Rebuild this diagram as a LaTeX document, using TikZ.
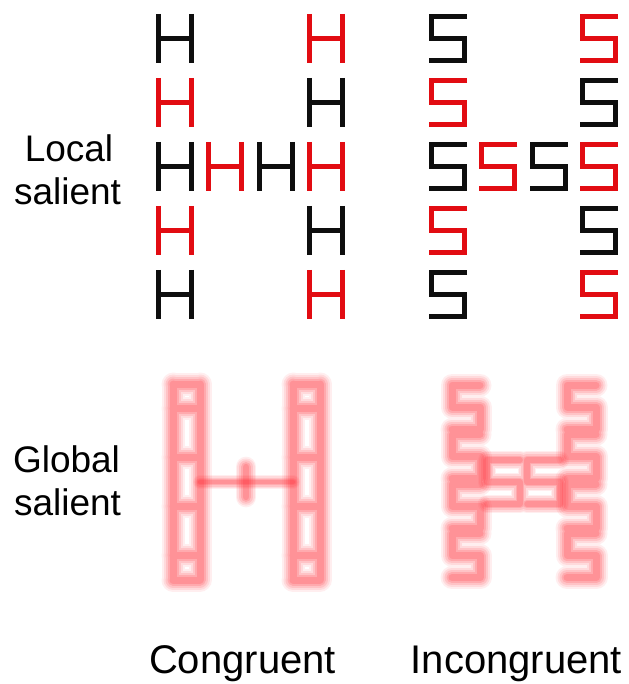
\documentclass[tikz,border=0pt]{standalone}
\usepackage{fontspec}
\setmainfont{Liberation Sans}
\usepackage{tikz}
\usetikzlibrary{positioning}
\definecolor{RD}{RGB}{226,12,18}
\definecolor{DK}{RGB}{14,14,14}
\definecolor{BR}{RGB}{255,40,50}

\tikzset{
  hglyph/.pic={\draw[pic actions] (0,-0.057)--(0,1.057) (1,-0.057)--(1,1.057) (0,0.5)--(1,0.5);},
  sglyph/.pic={\draw[pic actions] (1.076,0)--(0,0)--(0,0.5)--(1,0.5)--(1,1)--(-0.076,1);}
}

\begin{document}
\begin{tikzpicture}[x=1pt, y=-1pt,
  sharp/.style={line width=5pt, xscale=33, yscale=44, line join=miter},
  soft/.style={draw=BR, line cap=round, line join=round},
  lbl/.style={font=\fontsize{37}{43}\selectfont, text=black, inner sep=0pt, anchor=base},
  ttl/.style={font=\fontsize{40}{46}\selectfont, text=black, inner sep=0pt, anchor=base}
]
\useasboundingbox (0,0) rectangle (628,684);

% Local salient -- H made of H's and H made of S's
\foreach \i/\j/\c in {0/0/DK,0/3/RD,1/0/RD,1/3/DK,2/0/DK,2/1/RD,2/2/DK,2/3/RD,
                      3/0/RD,3/3/DK,4/0/DK,4/3/RD}{
  \pic[draw=\c, sharp] at (158.5+50.33*\j, 16.5+64*\i) {hglyph};
  \pic[draw=\c, sharp] at (431.5+50.33*\j, 16.5+64*\i) {sglyph};
}

% Global salient -- soft red copies, layered strokes
\foreach \w/\o in {23/0.08,19/0.1,15/0.13,11/0.16,7/0.18}{
  % congruent: two columns of stacked H's and the bar between
  \foreach \xl in {173,293}{
    \draw[soft, line width=\w pt, draw opacity=\o]
      (\xl,384) -- (\xl,580) (\xl+27,384) -- (\xl+27,580)
      \foreach \y in {384,408,457,506,555,580}{ (\xl,\y) -- (\xl+27,\y) };
  }
  \draw[soft, line width=0.6*\w pt, draw opacity=\o] (200,482) -- (293,482);
  \draw[soft, line width=0.9*\w pt, draw opacity=\o] (246,467) -- (246,497);
  % incongruent: two columns of stacked S's and two S's between
  \foreach \xl/\sw in {452/28,567/29}{
    \draw[soft, line width=\w pt, draw opacity=\o]
      \foreach \k in {0,...,3}{
        (\xl+\sw,385+49.5*\k) -- ++(-\sw,0) -- ++(0,22) -- ++(\sw,0) -- ++(0,22) -- ++(-\sw,0)
      };
  }
  \draw[soft, line width=0.8*\w pt, draw opacity=\o]
    \foreach \xl in {487,527}{
      (\xl+33,460) -- ++(-33,0) -- ++(0,22) -- ++(33,0) -- ++(0,22) -- ++(-33,0)
    };
}

% Row labels
\node[lbl] (loc)   at (69,162)   {Local};
\node[lbl] (locs)  at (67.5,205) {salient};
\node[lbl] (glob)  at (66.5,472) {Global};
\node[lbl] (globs) at (67.5,515) {salient};

% Column labels
\node[ttl] (cong)   at (242.5,673) {Congruent};
\node[ttl] (incong) at (516.5,673) {Incongruent};
\end{tikzpicture}
\end{document}
